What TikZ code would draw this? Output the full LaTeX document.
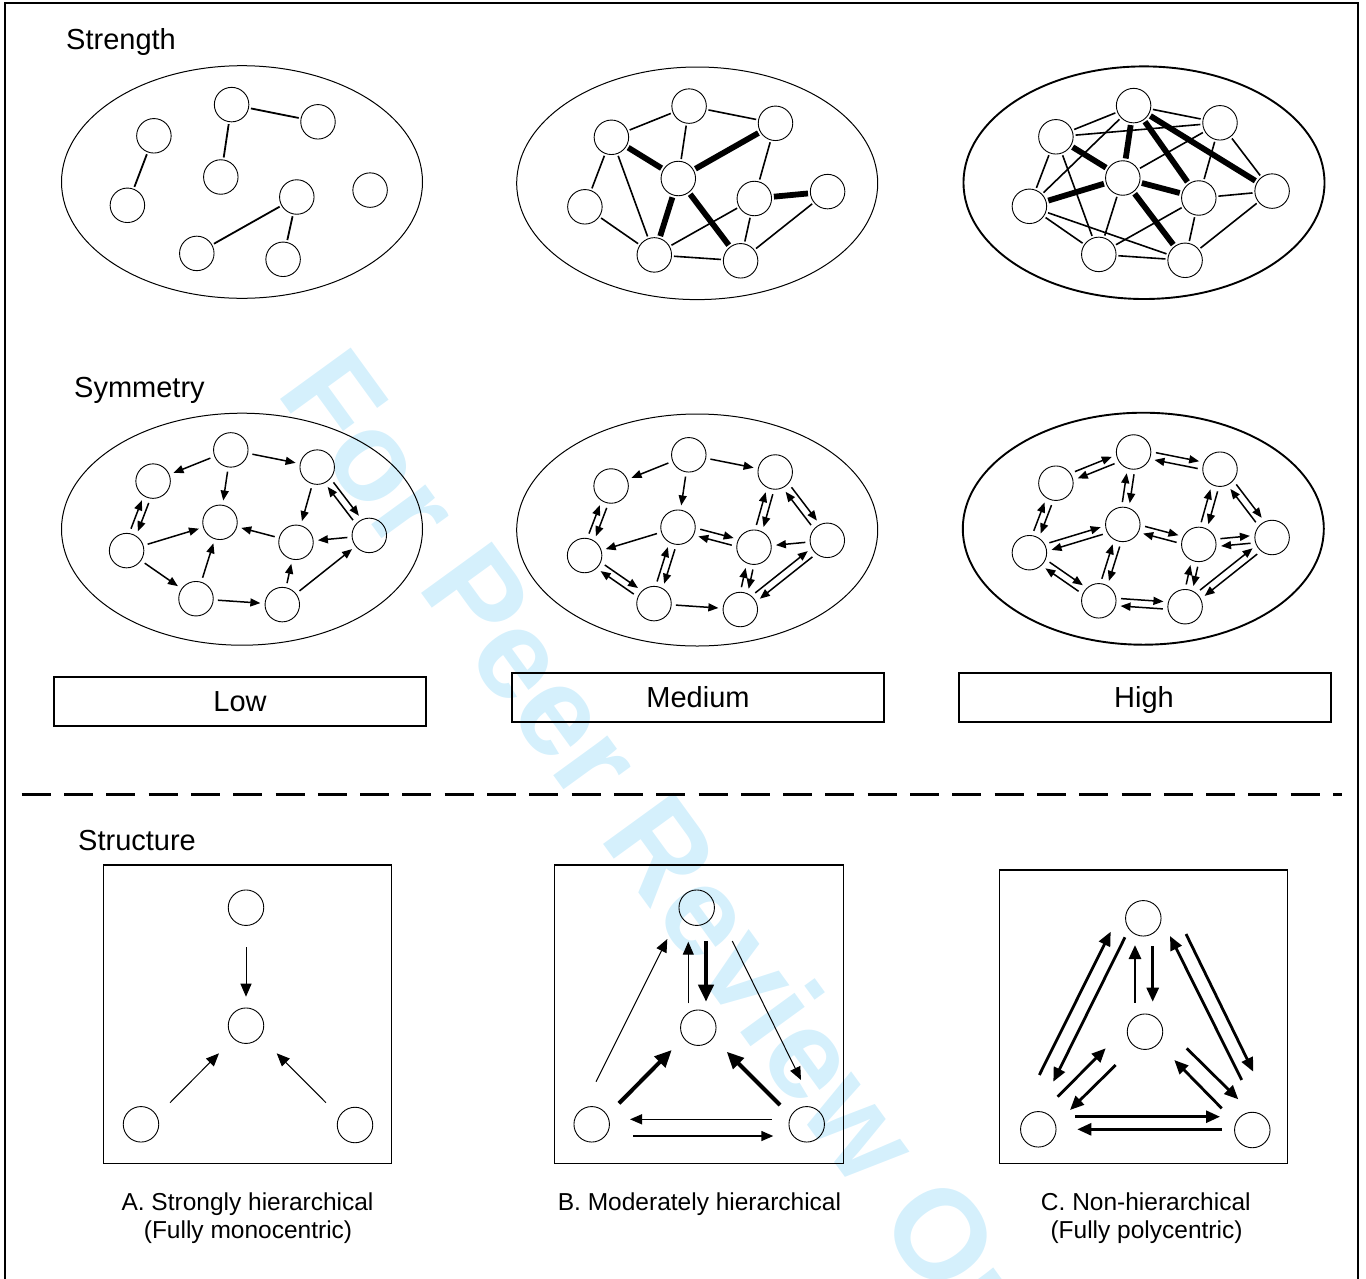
\documentclass[tikz,border=0pt]{standalone}
\usepackage{fontspec}
\setmainfont{Liberation Sans}
\usetikzlibrary{arrows.meta,calc}
\definecolor{wmblue}{RGB}{213,240,252}
\tikzset{
  nd/.style={circle,draw,line width=0.9pt,minimum size=34.5pt,inner sep=0pt},
  snd/.style={circle,draw,line width=0.9pt,minimum size=35.5pt,inner sep=0pt},
  titletxt/.style={font=\fontsize{29}{34}\selectfont,anchor=base west,inner sep=0pt},
  lbltxt/.style={font=\fontsize{29}{34}\selectfont,anchor=base,inner sep=0pt},
  captxt/.style={font=\fontsize{24.5}{29}\selectfont,anchor=base,inner sep=0pt},
  lowl/.style={line width=1.8pt,shorten <=2pt,shorten >=2pt},
  thinl/.style={line width=1.6pt,shorten <=2pt,shorten >=2pt},
  thickl/.style={line width=5.8pt,shorten <=2pt,shorten >=2pt},
  symarr/.style={line width=1.5pt,-{Triangle[length=10pt,width=8pt]}},
  sa/.style={line width=1pt,-{Triangle[length=13pt,width=11pt]}},
  sm/.style={line width=1.4pt,-{Triangle[length=12pt,width=10pt]}},
  sb/.style={line width=4pt,-{Triangle[length=17pt,width=15pt]}},
  sc/.style={line width=2.8pt,-{Triangle[length=14pt,width=12pt]}},
  lvlbox/.style={line width=2pt}
}
\newcommand\placenet[3]{%
  \foreach \n/\px/\py in {a/231.6/104.6,b/153.9/135.8,c/318/121.8,d/220.8/177,e/127.4/205.3,f/296.8/197,g/370.1/190.1,h/196.8/253.4,i/283.1/259.3}
    {\node[nd] (#1\n) at (\px+#2,\py+#3) {};}%
}
\newcommand\sarr[3]{%
  \path ($(#1.center)!#3!90:(#2.center)$) coordinate (p1)
        ($(#2.center)!#3!-90:(#1.center)$) coordinate (p2);
  \draw[symarr] ($(p1)!22pt!(p2)$) -- ($(p2)!22pt!(p1)$);%
}
\newcommand\spair[2]{\sarr{#1}{#2}{3.7pt}\sarr{#2}{#1}{3.7pt}}
\newcommand\sedge[3]{\draw[#1] (#2) -- (#3);}
\begin{document}
\begin{tikzpicture}[x=1pt,y=-1pt]
\useasboundingbox (0,0) rectangle (1366,1278);
% watermark
\begin{scope}
  \clip (0,0) rectangle (1366,1278);
  \node[text=wmblue,font=\bfseries\fontsize{127}{127}\selectfont,anchor=base west,rotate=-54,inner sep=0pt] (wm) at (275,392) {For Peer Review Only};
\end{scope}
% frame
\draw[line width=1.5pt] (5,1290) -- (5,3) -- (1358,3) -- (1358,1290);
% titles
\node[titletxt] (tstr) at (66,49) {Strength};
\node[titletxt] (tsym) at (74,397) {Symmetry};
\node[titletxt] (tstc) at (78,850) {Structure};
% ellipses
\draw[line width=1pt] (242,182) ellipse [x radius=180.5,y radius=116.3];
\draw[line width=1pt] (697.2,183.3) ellipse [x radius=180.5,y radius=116.3];
\draw[line width=1.9pt] (1144,182.7) ellipse [x radius=180.5,y radius=116.3];
\draw[line width=1pt] (242,529.2) ellipse [x radius=180.5,y radius=116];
\draw[line width=1pt] (697.2,530) ellipse [x radius=180.5,y radius=116];
\draw[line width=1.9pt] (1143.3,528.7) ellipse [x radius=180.5,y radius=116];
% networks
\placenet{s1}{0}{0}
\placenet{s2}{457.5}{1.5}
\placenet{s3}{902}{1}
\placenet{y1}{-0.8}{345.3}
\placenet{y2}{457.2}{350.2}
\placenet{y3}{902}{347.4}
% strength: low
\foreach \u/\v in {a/c,a/d,b/e,f/h,f/i} {\sedge{lowl}{s1\u}{s1\v}}
% strength: medium
\foreach \u/\v in {a/b,a/c,a/d,b/e,b/h,e/h,h/i,c/f,f/h,f/i,g/i} {\sedge{thinl}{s2\u}{s2\v}}
\foreach \u/\v in {b/d,d/c,d/h,d/i,f/g} {\sedge{thickl}{s2\u}{s2\v}}
% strength: high
\foreach \u/\v in {a/b,a/c,b/c,a/e,c/d,c/f,c/g,b/e,b/h,e/h,e/i,d/h,f/h,f/i,f/g,g/i,h/i} {\sedge{thinl}{s3\u}{s3\v}}
\foreach \u/\v in {b/d,a/d,a/f,a/g,d/e,d/f,d/i} {\sedge{thickl}{s3\u}{s3\v}}
% symmetry: low
\sarr{y1a}{y1b}{0pt}
\sarr{y1a}{y1c}{0pt}
\sarr{y1a}{y1d}{0pt}
\spair{y1b}{y1e}
\sarr{y1e}{y1d}{0pt}
\sarr{y1e}{y1h}{0pt}
\sarr{y1h}{y1d}{0pt}
\sarr{y1h}{y1i}{0pt}
\sarr{y1i}{y1f}{0pt}
\sarr{y1i}{y1g}{0pt}
\sarr{y1f}{y1d}{0pt}
\sarr{y1g}{y1f}{0pt}
\sarr{y1c}{y1f}{0pt}
\spair{y1c}{y1g}
% symmetry: medium
\sarr{y2a}{y2b}{0pt}
\sarr{y2a}{y2c}{0pt}
\sarr{y2a}{y2d}{0pt}
\spair{y2b}{y2e}
\sarr{y2d}{y2e}{0pt}
\spair{y2e}{y2h}
\spair{y2h}{y2d}
\spair{y2d}{y2f}
\spair{y2c}{y2f}
\spair{y2c}{y2g}
\sarr{y2g}{y2f}{0pt}
\spair{y2f}{y2i}
\spair{y2g}{y2i}
\sarr{y2h}{y2i}{0pt}
% symmetry: high
\foreach \u/\v in {a/b,a/c,a/d,b/e,e/d,e/h,d/h,d/f,c/f,c/g,f/g,f/i,g/i,h/i} {\spair{y3\u}{y3\v}}
% level boxes
\draw[lvlbox] (54,677) rectangle (426,725.5);
\draw[lvlbox] (512,673.3) rectangle (884,722);
\draw[lvlbox] (958.5,673.3) rectangle (1330.5,722);
\node[lbltxt] (llow) at (240,711) {Low};
\node[lbltxt] (lmed) at (698,707.5) {Medium};
\node[lbltxt] (lhigh) at (1144,707.5) {High};
% dashed separator
\draw[line width=2.4pt,dash pattern=on 29pt off 13.3pt] (21.7,794.5) -- (1342,794.5);
% structure boxes
\draw[line width=1.2pt] (103.3,865) rectangle (391.7,1163.3);
\draw[line width=1.2pt] (554.3,865) rectangle (843.3,1163.3);
\draw[line width=1.2pt] (999.3,870) rectangle (1287.7,1163.3);
% structure A
\node[snd] (At) at (246,907.7) {};
\node[snd] (Ac) at (246,1025.7) {};
\node[snd] (Al) at (141,1124.3) {};
\node[snd] (Ar) at (355,1125) {};
\draw[sa] ($(At)+(0,39.6)$) -- ($(Ac)+(0,-29)$);
\draw[sa] ($(Al)+(29,-21.6)$) -- ($(Ac)+(-27,27.6)$);
\draw[sa] ($(Ar)+(-29,-22.3)$) -- ($(Ac)+(30.7,27.6)$);
% structure B
\node[snd] (Bt) at (696.7,907.7) {};
\node[snd] (Bc) at (698.3,1027.7) {};
\node[snd] (Bl) at (591.7,1124.3) {};
\node[snd] (Br) at (806.7,1124.3) {};
\draw[sa] ($(Bl)+(4.3,-42.6)$) -- ($(Bt)+(-29.4,31.3)$);
\draw[sa] ($(Bc)+(-10,-24.4)$) -- ($(Bt)+(-8.4,34)$);
\draw[sb] ($(Bt)+(9.3,33.3)$) -- ($(Bc)+(7.7,-26)$);
\draw[sa] ($(Bt)+(35.6,33.3)$) -- ($(Br)+(-5.7,-44.3)$);
\draw[sb] ($(Bl)+(27.3,-21)$) -- ($(Bc)+(-26.6,22.3)$);
\draw[sb] ($(Br)+(-26.7,-19.3)$) -- ($(Bc)+(28.4,24)$);
\draw[sm] ($(Br)+(-35,-5)$) -- ($(Bl)+(38.3,-5)$);
\draw[sm] ($(Bl)+(41.6,11.7)$) -- ($(Br)+(-33.4,11.7)$);
% structure C
\node[snd] (Ct) at (1143.3,918.3) {};
\node[snd] (Cc) at (1145,1031.7) {};
\node[snd] (Cl) at (1038.3,1129.3) {};
\node[snd] (Cr) at (1252.3,1130) {};
\draw[sc] ($(Cl)+(1,-54.3)$) -- ($(Ct)+(-32.6,13.4)$);
\draw[sc] ($(Ct)+(-18.3,19)$) -- ($(Cl)+(15,-47.6)$);
\draw[sc] ($(Cc)+(-10,-29)$) -- ($(Ct)+(-8.3,26.7)$);
\draw[sc] ($(Ct)+(9.4,27.7)$) -- ($(Cc)+(7.7,-30)$);
\draw[sc] ($(Ct)+(42.7,15.7)$) -- ($(Cr)+(1,-58.3)$);
\draw[sc] ($(Cr)+(-10.6,-50)$) -- ($(Ct)+(26.7,17.7)$);
\draw[sc] ($(Cl)+(19.4,-32.6)$) -- ($(Cc)+(-39.3,16.6)$);
\draw[sc] ($(Cc)+(-29.3,33.3)$) -- ($(Cl)+(31.7,-19.3)$);
\draw[sc] ($(Cc)+(41.7,16.6)$) -- ($(Cr)+(-14,-30.7)$);
\draw[sc] ($(Cr)+(-30.6,-21.7)$) -- ($(Cc)+(29.3,28.3)$);
\draw[sc] ($(Cl)+(36.7,-12.6)$) -- ($(Cr)+(-32.3,-13.3)$);
\draw[sc] ($(Cr)+(-30.6,-0.7)$) -- ($(Cl)+(39,0)$);
% captions
\node[captxt] (ca1) at (247.5,1210) {A. Strongly hierarchical};
\node[captxt] (ca2) at (248,1238) {(Fully monocentric)};
\node[captxt] (cb1) at (699.5,1210) {B. Moderately hierarchical};
\node[captxt] (cc1) at (1145.8,1210) {C. Non-hierarchical};
\node[captxt] (cc2) at (1146.5,1238) {(Fully polycentric)};
\end{tikzpicture}
\end{document}
